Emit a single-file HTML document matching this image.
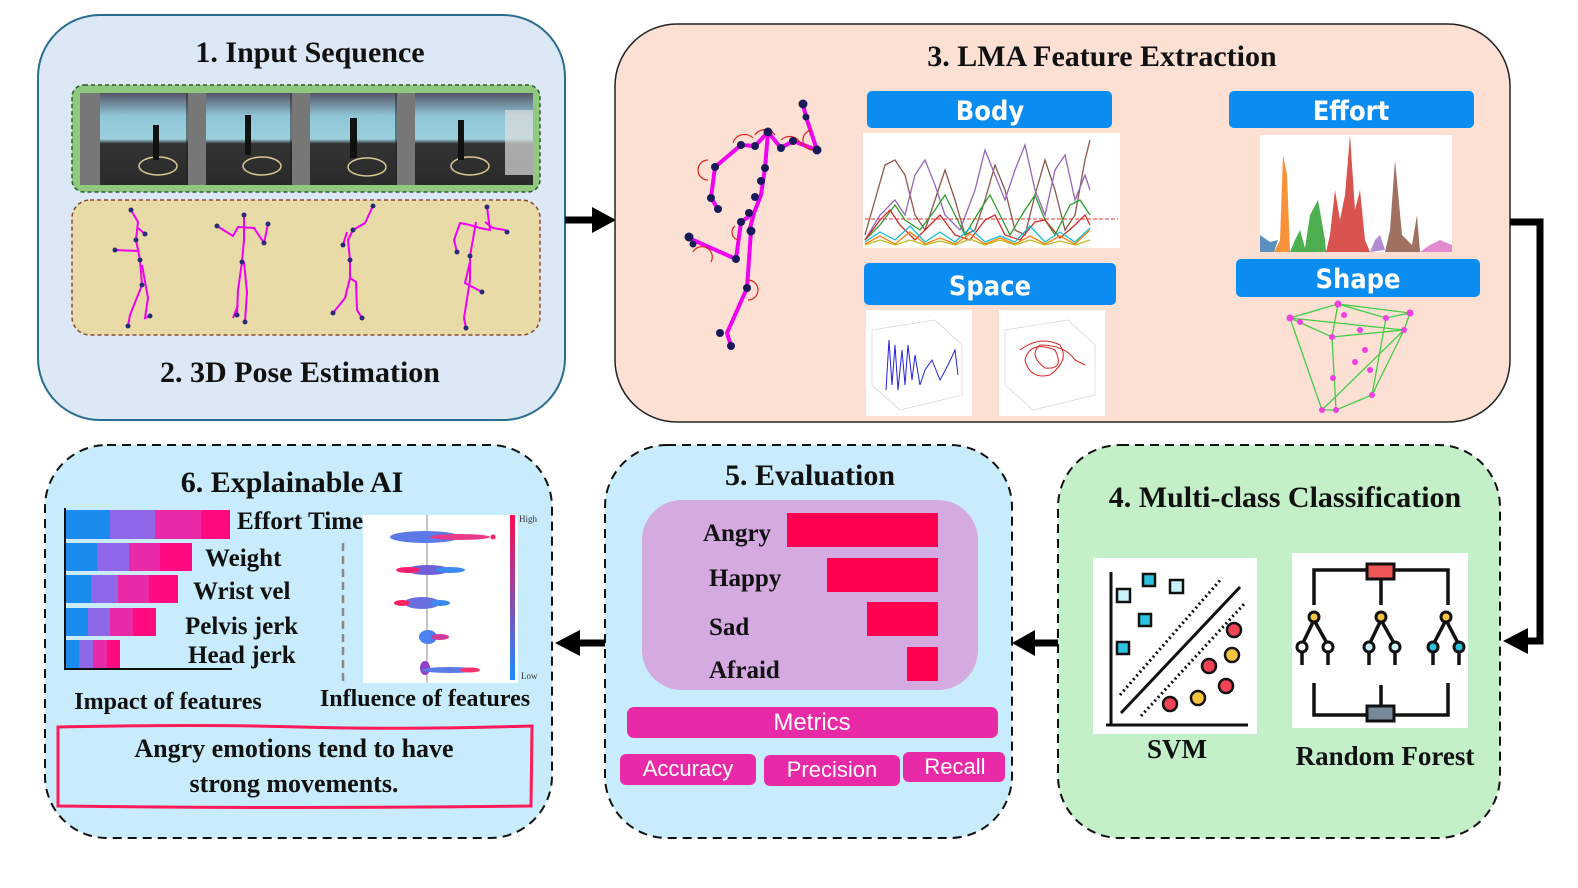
<!DOCTYPE html>
<html><head><meta charset="utf-8"><style>
html,body{margin:0;padding:0;background:#fff;}
svg{display:block;}
.t{font-family:"Liberation Serif",serif;fill:#111;font-weight:bold;}
.c{font-family:"Liberation Sans Narrow","DejaVu Sans Condensed","Liberation Sans",sans-serif;fill:#fff;font-weight:bold;}
.s{font-family:"Liberation Sans",sans-serif;fill:#fff;}
</style></head><body>
<svg width="1578" height="888" viewBox="0 0 1578 888" xmlns="http://www.w3.org/2000/svg">
<defs>
<linearGradient id="wall" x1="0" y1="0" x2="0" y2="1">
<stop offset="0" stop-color="#556"/><stop offset="0.25" stop-color="#8fc6d6"/><stop offset="0.5" stop-color="#9ad0dc"/><stop offset="0.55" stop-color="#333"/><stop offset="1" stop-color="#2a2a2a"/></linearGradient>
<linearGradient id="cb" x1="0" y1="0" x2="0" y2="1"><stop offset="0" stop-color="#ff0a55"/><stop offset="1" stop-color="#1a8cff"/></linearGradient>
<clipPath id="bc"><rect x="863" y="133" width="257" height="115"/></clipPath>
</defs>

<!-- Panel 1 -->
<rect x="38" y="15" width="527" height="405" rx="62" fill="#dce8f5" stroke="#2b6d8e" stroke-width="2"/>
<text class="t" x="310" y="62" font-size="30" text-anchor="middle">1. Input Sequence</text>
<rect x="72" y="85" width="468" height="107" rx="12" fill="#8ec97e" stroke="#2d5a2d" stroke-width="1.5" stroke-dasharray="4,3"/>
<g>
<rect x="80" y="93" width="453" height="92" fill="url(#wall)"/>
<rect x="80" y="93" width="20" height="92" fill="#777"/><rect x="188" y="93" width="18" height="92" fill="#777"/><rect x="292" y="93" width="18" height="92" fill="#777"/><rect x="397" y="93" width="18" height="92" fill="#777"/>
<line x1="187" y1="93" x2="187" y2="185" stroke="#222"/><line x1="291" y1="93" x2="291" y2="185" stroke="#222"/><line x1="396" y1="93" x2="396" y2="185" stroke="#222"/>
<g fill="none" stroke="#d8c890" stroke-width="1.5"><ellipse cx="158" cy="166" rx="19" ry="9"/><ellipse cx="262" cy="166" rx="19" ry="9"/><ellipse cx="367" cy="167" rx="19" ry="9"/><ellipse cx="470" cy="166" rx="19" ry="9"/></g>
<g fill="#111"><rect x="153" y="125" width="6" height="35"/><rect x="245" y="115" width="6" height="40"/><rect x="350" y="118" width="7" height="40"/><rect x="458" y="120" width="6" height="40"/></g>
<rect x="505" y="110" width="28" height="65" fill="#ddd" opacity="0.7"/>
</g>
<rect x="72" y="200" width="468" height="135" rx="18" fill="#e8dba8" stroke="#8b4a2a" stroke-width="1.5" stroke-dasharray="4,3"/>
<g stroke="#f000f0" stroke-width="2" fill="none">
<polyline points="131,210 138,222 136,240 140,260 142,285 130,315 128,326"/><polyline points="142,265 148,298 145,318 150,316"/><polyline points="115,250 138,251"/><polyline points="138,228 145,234"/>
<polyline points="244,215 244,240 242,262 238,290 237,315"/><polyline points="244,262 247,292 245,322"/><polyline points="217,226 233,236 238,227 254,228 264,243 268,224"/><polyline points="238,305 233,318"/>
<polyline points="373,206 365,223 353,230 348,240 350,260 350,278 345,298 333,313"/><polyline points="350,278 356,282 357,310 362,318"/><polyline points="347,232 343,245"/>
<polyline points="487,207 490,230 480,228 470,225 460,223 454,240 457,252"/><polyline points="476,222 470,256 470,280 464,318 466,328"/><polyline points="470,262 465,283 482,292"/><polyline points="485,222 493,228 505,230 507,232"/>
</g>
<g fill="#2a2a7a">
<circle cx="131" cy="210" r="2.5"/><circle cx="136" cy="240" r="2.5"/><circle cx="142" cy="285" r="2.5"/><circle cx="128" cy="326" r="2.5"/><circle cx="150" cy="316" r="2.5"/><circle cx="115" cy="250" r="2.5"/><circle cx="145" cy="234" r="2.5"/><circle cx="140" cy="260" r="2.5"/>
<circle cx="244" cy="215" r="2.5"/><circle cx="242" cy="262" r="2.5"/><circle cx="237" cy="315" r="2.5"/><circle cx="245" cy="322" r="2.5"/><circle cx="217" cy="226" r="2.5"/><circle cx="268" cy="224" r="2.5"/><circle cx="264" cy="243" r="2.5"/>
<circle cx="373" cy="206" r="2.5"/><circle cx="353" cy="230" r="2.5"/><circle cx="350" cy="260" r="2.5"/><circle cx="333" cy="313" r="2.5"/><circle cx="362" cy="318" r="2.5"/><circle cx="343" cy="245" r="2.5"/>
<circle cx="487" cy="207" r="2.5"/><circle cx="457" cy="252" r="2.5"/><circle cx="466" cy="328" r="2.5"/><circle cx="482" cy="292" r="2.5"/><circle cx="507" cy="232" r="2.5"/><circle cx="470" cy="256" r="2.5"/>
</g>
<text class="t" x="300" y="382" font-size="30" text-anchor="middle">2. 3D Pose Estimation</text>

<!-- arrow 1->3 -->
<line x1="565" y1="220" x2="595" y2="220" stroke="#000" stroke-width="7"/>
<polygon points="592,207 616,220 592,233" fill="#000"/>

<!-- Panel 3 -->
<rect x="615" y="24" width="895" height="398" rx="62" fill="#fbe0d3" stroke="#222" stroke-width="1.5"/>
<text class="t" x="1102" y="66" font-size="30" text-anchor="middle">3. LMA Feature Extraction</text>
<g stroke="#f000f0" stroke-width="4" fill="none" stroke-linejoin="round">
<polyline points="803,104 806,117 817,150 793,141 781,148 768,132 755,146 741,145 715,167 711,198 718,209"/>
<polyline points="768,132 765,168 761,195 754,213 749,232 751,231 747,288 727,333 731,346"/>
<polyline points="754,213 741,222 736,259 693,240 689,237"/>
</g>
<g fill="none" stroke="#e02020" stroke-width="1.2">
<path d="M733,143 a12,12 0 0 1 20,-5"/><path d="M755,135 a12,12 0 0 1 20,0"/><path d="M781,140 a12,12 0 0 1 20,5"/><path d="M812,130 a10,10 0 0 0 2,20"/><path d="M708,160 a10,10 0 0 0 0,20"/><path d="M693,252 a10,10 0 0 1 18,10"/><path d="M748,280 a10,10 0 0 1 0,20"/><path d="M735,226 a8,8 0 0 0 3,14"/>
</g>
<g fill="#1a1a5a">
<circle cx="803" cy="104" r="4.5"/><circle cx="806" cy="117" r="3.5"/><circle cx="817" cy="150" r="4.5"/><circle cx="793" cy="141" r="4"/><circle cx="781" cy="148" r="4"/><circle cx="768" cy="132" r="4.5"/><circle cx="755" cy="146" r="4"/><circle cx="741" cy="145" r="4"/><circle cx="715" cy="167" r="4"/><circle cx="711" cy="198" r="4"/><circle cx="718" cy="209" r="4"/><circle cx="765" cy="168" r="4"/><circle cx="761" cy="181" r="4"/><circle cx="755" cy="197" r="4"/><circle cx="749" cy="213" r="4"/><circle cx="751" cy="231" r="4.5"/><circle cx="741" cy="222" r="4"/><circle cx="689" cy="237" r="4.5"/><circle cx="693" cy="244" r="3.5"/><circle cx="736" cy="259" r="4"/><circle cx="747" cy="288" r="4"/><circle cx="720" cy="333" r="4"/><circle cx="731" cy="346" r="4"/>
</g>
<rect x="867" y="91" width="245" height="37" rx="5" fill="#0a8cf0"/>
<text class="c" x="990" y="120" font-size="27" text-anchor="middle">Body</text>
<rect x="863" y="133" width="257" height="115" fill="#fff"/>
<g fill="none" stroke-width="1.3" clip-path="url(#bc)">
<polyline stroke="#8c564b" points="865,235 875,200 885,165 895,160 905,175 915,215 925,230 935,200 945,170 955,200 965,235 975,230 985,200 995,165 1005,190 1015,230 1025,235 1035,195 1045,160 1055,190 1065,230 1075,215 1085,160 1090,140"/>
<polyline stroke="#9467bd" points="865,240 880,215 895,200 905,215 915,175 925,160 935,185 945,215 960,230 975,190 985,150 995,175 1005,200 1015,170 1025,145 1035,190 1045,215 1055,170 1065,155 1075,200 1085,175 1090,190"/>
<polyline stroke="#2ca02c" points="865,240 880,225 895,205 905,220 920,230 935,210 945,195 955,215 965,235 980,210 990,195 1000,215 1010,235 1025,210 1035,195 1045,220 1055,235 1070,205 1080,200 1090,215"/>
<polyline stroke="#d62728" points="865,240 880,220 890,210 900,225 915,240 930,225 940,215 955,235 970,240 985,220 995,215 1005,235 1020,240 1035,222 1045,220 1060,238 1075,225 1085,215 1090,225"/>
<polyline stroke="#17becf" points="865,242 880,232 895,240 910,226 925,242 940,232 955,242 970,228 985,242 1000,236 1015,242 1030,226 1045,242 1060,232 1075,242 1090,228"/>
<polyline stroke="#ff7f0e" points="865,244 880,236 895,244 910,232 925,244 940,238 955,244 970,234 985,244 1000,238 1015,244 1030,236 1045,244 1060,236 1075,244 1090,230"/>
<polyline stroke="#bcbd22" points="865,245 880,240 895,245 910,240 925,245 940,241 955,245 970,239 985,245 1000,240 1015,245 1030,240 1045,245 1060,241 1075,245 1090,240"/>
</g>
<line x1="865" y1="219" x2="1118" y2="219" stroke="#e03030" stroke-dasharray="4,2"/>
<rect x="1229" y="91" width="245" height="37" rx="5" fill="#0a8cf0"/>
<text class="c" x="1351" y="120" font-size="27" text-anchor="middle">Effort</text>
<rect x="1260" y="135" width="192" height="117" fill="#fff"/>
<g stroke="none">
<path d="M1260,252 L1260,235 L1270,242 L1278,240 L1274,252Z" fill="#5a8fc0"/>
<path d="M1274,252 L1280,240 L1283,155 L1287,175 L1290,252Z" fill="#f7923a"/>
<path d="M1290,252 L1295,240 L1300,230 L1305,248 L1310,215 L1318,200 L1325,240 L1326,252Z" fill="#4caf50"/>
<path d="M1326,252 L1330,235 L1335,190 L1340,220 L1345,195 L1350,135 L1355,210 L1360,190 L1365,240 L1370,252Z" fill="#d9534f"/>
<path d="M1370,252 L1375,240 L1380,235 L1385,250Z" fill="#b48ad0"/>
<path d="M1385,252 L1390,230 L1395,160 L1402,235 L1412,245 L1417,215 L1420,252Z" fill="#a07060"/>
<path d="M1420,252 L1430,245 L1440,240 L1452,245 L1452,252Z" fill="#e48ad0"/>
</g>
<rect x="864" y="263" width="252" height="42" rx="5" fill="#0a8cf0"/>
<text class="c" x="990" y="295" font-size="27" text-anchor="middle">Space</text>
<rect x="866" y="310" width="106" height="106" fill="#fff"/>
<rect x="999" y="310" width="106" height="106" fill="#fff"/>
<g fill="none" stroke="#ccc" stroke-width="0.6"><path d="M872,330 L935,320 L962,345 L962,395 L900,410 L872,385Z"/><path d="M1005,330 L1068,320 L1095,345 L1095,395 L1033,410 L1005,385Z"/></g>
<path d="M886,390 L889,340 L892,385 L895,345 L898,390 L902,350 L905,385 L908,345 L912,380 L915,355 L920,385 L925,370 L932,360 L940,380 L948,365 L955,350 L958,375" fill="none" stroke="#2222dd" stroke-width="1"/>
<path d="M1020,350 Q1040,335 1060,345 Q1070,360 1050,375 Q1030,380 1025,360 Q1030,340 1055,350 Q1065,370 1045,368 Q1028,355 1040,345 Q1065,345 1075,360 L1085,365" fill="none" stroke="#dd2222" stroke-width="1"/>
<rect x="1236" y="259" width="244" height="38" rx="5" fill="#0a8cf0"/>
<text class="c" x="1358" y="288" font-size="27" text-anchor="middle">Shape</text>
<g fill="none" stroke="#44cc44" stroke-width="1.3">
<path d="M1290,318 L1338,304 L1410,313 L1404,330 L1372,395 L1336,410 L1322,410 L1290,318Z"/>
<path d="M1290,318 L1332,337 L1338,304 L1386,318 L1410,313 M1332,337 L1404,330 M1332,337 L1336,410 M1322,410 L1404,330 M1386,318 L1372,395 M1290,318 L1404,330"/>
</g>
<g fill="#f040e0">
<circle cx="1290" cy="318" r="3.5"/><circle cx="1338" cy="304" r="3.5"/><circle cx="1410" cy="313" r="3.5"/><circle cx="1404" cy="330" r="3"/><circle cx="1372" cy="395" r="3"/><circle cx="1336" cy="410" r="3"/><circle cx="1322" cy="410" r="3"/><circle cx="1332" cy="337" r="3"/><circle cx="1360" cy="330" r="3"/><circle cx="1365" cy="350" r="3"/><circle cx="1355" cy="362" r="3"/><circle cx="1370" cy="370" r="3"/><circle cx="1333" cy="378" r="3"/><circle cx="1300" cy="322" r="3"/><circle cx="1344" cy="315" r="3"/><circle cx="1386" cy="318" r="3"/>
</g>

<!-- connector 3->4 -->
<polyline points="1510,222 1540,222 1540,641 1525,641" fill="none" stroke="#000" stroke-width="7"/>
<polygon points="1528,628 1503,641 1528,654" fill="#000"/>

<!-- Panel 4 -->
<rect x="1058" y="445" width="442" height="393" rx="62" fill="#c3f0c9" stroke="#111" stroke-width="2" stroke-dasharray="9,6"/>
<text class="t" x="1285" y="507" font-size="30" text-anchor="middle">4. Multi-class Classification</text>
<rect x="1093" y="558" width="164" height="176" fill="#fff"/>
<g stroke="#111" stroke-width="3" fill="none">
<polyline points="1111,572 1111,725"/><polyline points="1106,725 1248,725"/>
<line x1="1121" y1="713" x2="1240" y2="587"/>
</g>
<g stroke="#111" stroke-width="3" stroke-dasharray="2,3" fill="none"><line x1="1120" y1="695" x2="1222" y2="578"/><line x1="1141" y1="716" x2="1245" y2="603"/></g>
<g fill="#2bc3e0" stroke="#111" stroke-width="2.5"><rect x="1117" y="589" width="13" height="13" fill="#c9f3fb"/><rect x="1143" y="574" width="12" height="12"/><rect x="1170" y="580" width="13" height="13" fill="#c9f3fb"/><rect x="1139" y="614" width="12" height="12"/><rect x="1117" y="642" width="12" height="12"/></g>
<g stroke="#111" stroke-width="2.5"><circle cx="1234" cy="630" r="7" fill="#ee4455"/><circle cx="1232" cy="655" r="7" fill="#f5c542"/><circle cx="1209" cy="666" r="7" fill="#ee4455"/><circle cx="1226" cy="686" r="7" fill="#ee4455"/><circle cx="1198" cy="698" r="7" fill="#f5c542"/><circle cx="1170" cy="704" r="7" fill="#ee4455"/></g>
<rect x="1292" y="553" width="176" height="175" fill="#fff"/>
<g stroke="#111" stroke-width="3.5" fill="none">
<polyline points="1314,605 1314,570 1448,570 1448,605"/><line x1="1381" y1="570" x2="1381" y2="605"/>
<polyline points="1314,683 1314,715 1448,715 1448,683"/><line x1="1381" y1="685" x2="1381" y2="715"/>
<path d="M1314,620 L1302,645 M1314,620 L1328,645 M1381,620 L1369,645 M1381,620 L1395,645 M1446,620 L1433,645 M1446,620 L1459,645"/>
<path d="M1302,650 L1302,665 M1328,650 L1328,665 M1369,650 L1369,665 M1395,650 L1395,665 M1433,650 L1433,665 M1459,650 L1459,665"/>
</g>
<rect x="1367" y="564" width="27" height="15" fill="#ee5555" stroke="#111" stroke-width="3"/>
<rect x="1367" y="706" width="27" height="15" fill="#778899" stroke="#111" stroke-width="3"/>
<g stroke="#111" stroke-width="3"><circle cx="1314" cy="617" r="5" fill="#f5c542"/><circle cx="1381" cy="617" r="5" fill="#f5c542"/><circle cx="1446" cy="617" r="5" fill="#f5c542"/>
<circle cx="1302" cy="647" r="5" fill="#fff"/><circle cx="1328" cy="647" r="5" fill="#fff"/><circle cx="1369" cy="647" r="5" fill="#c9f3fb"/><circle cx="1395" cy="647" r="5" fill="#c9f3fb"/><circle cx="1433" cy="647" r="5" fill="#2bc3e0"/><circle cx="1459" cy="647" r="5" fill="#2bc3e0"/></g>
<text class="t" x="1177" y="758" font-size="27" text-anchor="middle">SVM</text>
<text class="t" x="1385" y="765" font-size="27" text-anchor="middle">Random Forest</text>

<!-- arrow 4->5 -->
<line x1="1058" y1="643" x2="1032" y2="643" stroke="#000" stroke-width="7"/>
<polygon points="1035,630 1012,643 1035,656" fill="#000"/>

<!-- Panel 5 -->
<rect x="605" y="445" width="407" height="393" rx="62" fill="#c8ecfb" stroke="#111" stroke-width="2" stroke-dasharray="9,6"/>
<text class="t" x="810" y="485" font-size="30" text-anchor="middle">5. Evaluation</text>
<rect x="642" y="500" width="336" height="190" rx="40" fill="#d4aae0"/>
<g fill="#ff0050"><rect x="787" y="513" width="151" height="34"/><rect x="827" y="558" width="111" height="34"/><rect x="867" y="602" width="71" height="34"/><rect x="907" y="647" width="31" height="34"/></g>
<g class="t" font-size="25"><text x="703" y="541">Angry</text><text x="709" y="586">Happy</text><text x="709" y="635">Sad</text><text x="709" y="678">Afraid</text></g>
<rect x="627" y="707" width="371" height="31" rx="7" fill="#e82aa8"/>
<text class="s" x="812" y="730" font-size="24" text-anchor="middle">Metrics</text>
<rect x="620" y="754" width="136" height="31" rx="6" fill="#e82aa8"/>
<text class="s" x="688" y="776" font-size="22" text-anchor="middle">Accuracy</text>
<rect x="764" y="755" width="136" height="31" rx="6" fill="#e82aa8"/>
<text class="s" x="832" y="777" font-size="22" text-anchor="middle">Precision</text>
<rect x="903" y="752" width="102" height="30" rx="6" fill="#e82aa8"/>
<text class="s" x="955" y="774" font-size="22" text-anchor="middle">Recall</text>

<!-- arrow 5->6 -->
<line x1="605" y1="643" x2="578" y2="643" stroke="#000" stroke-width="7"/>
<polygon points="580,630 555,643 580,656" fill="#000"/>

<!-- Panel 6 -->
<rect x="45" y="445" width="507" height="393" rx="62" fill="#c8ecfb" stroke="#111" stroke-width="2" stroke-dasharray="9,6"/>
<text class="t" x="292" y="492" font-size="30" text-anchor="middle">6. Explainable AI</text>
<g>
<rect x="66" y="510" width="44" height="29" fill="#1a8cf0"/><rect x="110" y="510" width="45" height="29" fill="#8e68e8"/><rect x="155" y="510" width="46" height="29" fill="#e82aa8"/><rect x="201" y="510" width="29" height="29" fill="#ff0a80"/>
<rect x="66" y="543" width="31" height="28" fill="#1a8cf0"/><rect x="97" y="543" width="32" height="28" fill="#8e68e8"/><rect x="129" y="543" width="31" height="28" fill="#e82aa8"/><rect x="160" y="543" width="32" height="28" fill="#ff0a80"/>
<rect x="66" y="575" width="25" height="28" fill="#1a8cf0"/><rect x="91" y="575" width="27" height="28" fill="#8e68e8"/><rect x="118" y="575" width="31" height="28" fill="#e82aa8"/><rect x="149" y="575" width="29" height="28" fill="#ff0a80"/>
<rect x="66" y="608" width="22" height="28" fill="#1a8cf0"/><rect x="88" y="608" width="22" height="28" fill="#8e68e8"/><rect x="110" y="608" width="23" height="28" fill="#e82aa8"/><rect x="133" y="608" width="23" height="28" fill="#ff0a80"/>
<rect x="66" y="640" width="13" height="29" fill="#1a8cf0"/><rect x="79" y="640" width="14" height="29" fill="#8e68e8"/><rect x="93" y="640" width="14" height="29" fill="#e82aa8"/><rect x="107" y="640" width="13" height="29" fill="#ff0a80"/>
</g>
<polyline points="65,508 65,669 232,669" fill="none" stroke="#111" stroke-width="2"/>
<g class="t" font-size="25"><text x="237" y="529">Effort Time</text><text x="205" y="566">Weight</text><text x="193" y="599">Wrist vel</text><text x="185" y="634">Pelvis jerk</text><text x="188" y="663">Head jerk</text></g>
<line x1="343" y1="543" x2="343" y2="683" stroke="#888" stroke-width="2.5" stroke-dasharray="8,5"/>
<rect x="363" y="515" width="155" height="168" fill="#fff"/>
<line x1="427" y1="515" x2="427" y2="683" stroke="#888" stroke-width="1"/>
<g>
<ellipse cx="425" cy="537" rx="35" ry="6" fill="#5b7ae8"/><ellipse cx="460" cy="537" rx="30" ry="3" fill="#e83a88"/><circle cx="493" cy="537" r="2.5" fill="#ff2060"/>
<ellipse cx="428" cy="570" rx="22" ry="5" fill="#7060d8"/><ellipse cx="408" cy="570" rx="12" ry="3" fill="#ff2070"/><ellipse cx="450" cy="570" rx="15" ry="3" fill="#3a8af0"/>
<ellipse cx="422" cy="603" rx="18" ry="6" fill="#6a70e0"/><ellipse cx="402" cy="603" rx="8" ry="3" fill="#ff2060"/><ellipse cx="440" cy="603" rx="10" ry="3" fill="#3a8af0"/>
<ellipse cx="428" cy="637" rx="9" ry="7" fill="#4a80f0"/><ellipse cx="440" cy="637" rx="9" ry="3" fill="#d03a98"/>
<ellipse cx="425" cy="668" rx="5" ry="7" fill="#9040c8"/><ellipse cx="450" cy="670" rx="28" ry="3" fill="#5a7ae8"/><ellipse cx="470" cy="670" rx="10" ry="2.5" fill="#ff3070"/>
</g>
<rect x="510" y="515" width="5" height="165" fill="url(#cb)"/>
<text x="519" y="522" font-family="Liberation Serif,serif" font-size="9" fill="#333">High</text>
<text x="521" y="679" font-family="Liberation Serif,serif" font-size="9" fill="#333">Low</text>
<text class="t" x="168" y="709" font-size="24" text-anchor="middle">Impact of features</text>
<text class="t" x="425" y="706" font-size="24" text-anchor="middle">Influence of features</text>
<path d="M58,727 Q200,724 300,727 T532,726 L531,806 Q300,809 58,806 Z" fill="none" stroke="#ff1a5a" stroke-width="3"/>
<text class="t" x="294" y="757" font-size="26" text-anchor="middle">Angry emotions tend to have</text>
<text class="t" x="294" y="792" font-size="26" text-anchor="middle">strong movements.</text>
</svg>
</body></html>
